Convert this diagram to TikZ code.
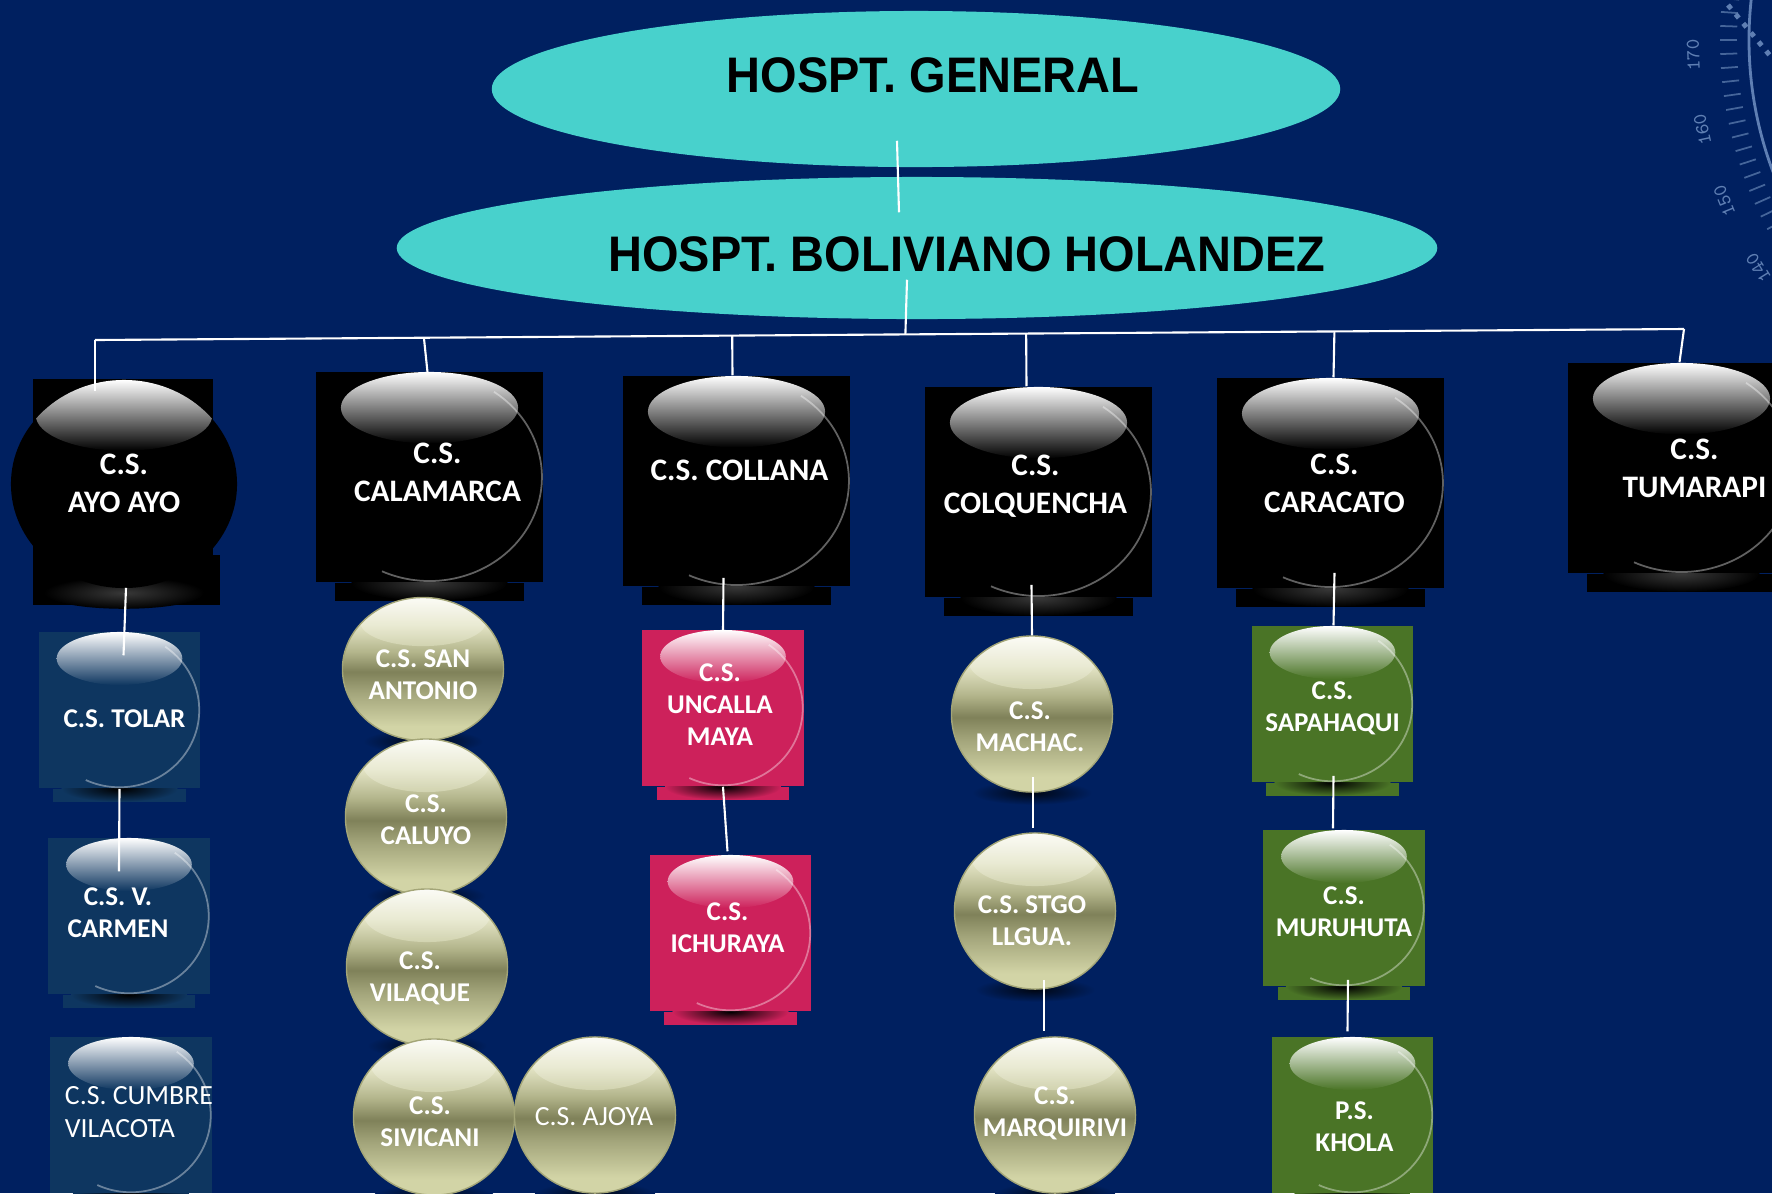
\documentclass[tikz,border=0pt]{standalone}
\usepackage{fontspec}
\newfontfamily\ballfont{Carlito}
\newfontfamily\headfont{Liberation Sans}[FakeStretch=0.94]
\usepackage{tikz}
\usetikzlibrary{calc, shapes.geometric, backgrounds}
\pgfdeclarelayer{bottom}
\pgfsetlayers{bottom,background,main}

\definecolor{navy}{HTML}{002060}
\definecolor{turq}{HTML}{48D1CC}
\definecolor{tealblue}{HTML}{0E3660}
\definecolor{rose}{HTML}{CD215B}
\definecolor{leaf}{HTML}{4A7426}
\definecolor{oltop}{HTML}{F8F8EC}
\definecolor{olupper}{HTML}{E2E3C4}
\definecolor{olmid}{HTML}{B3B58B}
\definecolor{oldark}{HTML}{7F8159}
\definecolor{ollow}{HTML}{A2A47A}
\definecolor{olbase}{HTML}{D2D4A6}
\definecolor{oledge}{HTML}{A3A577}
\definecolor{gaugeline}{HTML}{5F7FB3}
\definecolor{gaugetick}{HTML}{45659A}

\pgfdeclareverticalshading{olivebody}{100bp}{color(0bp)=(olbase); color(30bp)=(olbase);
  color(42bp)=(ollow); color(49bp)=(oldark); color(56bp)=(olmid); color(65bp)=(olupper);
  color(75bp)=(oltop); color(100bp)=(oltop)}

% inside a path picture: unit vectors = half width / half height of the ball
\tikzset{ballframe/.style={shift={(path picture bounding box.center)},
    x={($(path picture bounding box.east)-(path picture bounding box.center)$)},
    y={($(path picture bounding box.north)-(path picture bounding box.center)$)}}}
% glossy cap on top of a ball
\newcommand{\glint}[2][1]{%
  \begin{scope}[ballframe]
    \shade[top color=white, bottom color=#2, opacity=#1] (0,0.66) ellipse [x radius=0.78, y radius=0.34];
  \end{scope}}
% thin light edge on the right
\newcommand{\rimline}{%
  \begin{scope}[ballframe]
    \draw[white, draw opacity=0.38, line width=0.5pt] (55:0.99) arc [start angle=55, end angle=-115, radius=0.99];
  \end{scope}}

\begin{document}
\begin{tikzpicture}[
    x=0.01cm, y=-0.01cm,
    head/.style={ellipse, fill=turq, inner sep=0pt},
    headtext/.style={font=\headfont\bfseries\fontsize{14.2}{17}\selectfont, text=black},
    tile/.style={rectangle, fill=#1, inner sep=0pt, path picture={\glint{#1}\rimline}},
    orb/.style={ellipse, fill=#1, inner sep=0pt, path picture={\glint{#1}}},
    pearl/.style={ellipse, shade, shading=olivebody, draw=oledge, line width=0.4pt,
                  inner sep=0pt, path picture={\glint[0.55]{olupper}}},
    bigball/.style={minimum width=2.27cm, minimum height=2.10cm},
    smallball/.style={minimum width=1.61cm, minimum height=1.56cm},
    bigtext/.style={font=\ballfont\bfseries\fontsize{8.9}{10.8}\selectfont},
    smalltext/.style={font=\ballfont\bfseries\fontsize{7.7}{9.1}\selectfont},
    lighttext/.style={font=\ballfont\fontsize{7.9}{9.6}\selectfont},
    every label/.style={text=white, align=center, inner sep=0pt},
    say/.style n args={4}{label={[#1, shift={(#2,#3)}]center:#4}},
    link/.style={draw=white, line width=0.6pt},
    notch/.style={gaugetick, line width=0.5pt},
    gaugetext/.style={font=\ttfamily\fontsize{5.6}{6}\selectfont, text=gaugeline, inner sep=0pt},
]
    \useasboundingbox (0,0) rectangle (1772,1193);
    \begin{pgfonlayer}{bottom}
        \fill[navy] (0,0) rectangle (1772,1193);
        % protractor in the corner
        \coordinate (gauge) at (2123,40);
        \draw[gaugeline, line width=0.8pt] ($(gauge)+(150:374)$) arc [start angle=150, end angle=190, radius=374];
        \foreach \a in {146,148,...,190}
            \draw[notch] ($(gauge)+(\a:386)$) -- ($(gauge)+(\a:403)$);
        \foreach \v in {140,150,160,170}
            \node[gaugetext, rotate={262-\v}] (deg\v) at ($(gauge)+({\v+8}:430)$) {\v};
        \draw[gaugeline, dotted, line width=1.4pt] (1728,5) -- (1772,58);
    \end{pgfonlayer}

    % hospitals
    \node[head, minimum width=8.48cm, minimum height=1.56cm,
          say={headtext}{17}{-14}{HOSPT. GENERAL}] (general) at (916,89) {};
    \node[head, minimum width=10.4cm, minimum height=1.42cm,
          say={headtext}{50}{6}{HOSPT. BOLIVIANO HOLANDEZ}] (boliviano) at (917,248) {};

    % centros de salud
    \node[orb=black, minimum width=2.26cm, minimum height=2.08cm, say={bigtext}{0}{-1}{C.S.\\AYO AYO}] (ayo) at (124,484) {};
    \node[tile=black, bigball, say={bigtext}{8}{-5}{C.S.\\CALAMARCA}] (calamarca) at (429.5,477) {};
    \node[tile=black, bigball, say={bigtext}{3}{-11}{C.S. COLLANA}] (collana) at (736.5,481) {};
    \node[tile=black, bigball, say={bigtext}{-3}{-6}{C.S.\\COLQUENCHA}] (colquencha) at (1038.5,492) {};
    \node[tile=black, bigball, say={bigtext}{4}{0}{C.S.\\CARACATO}] (caracato) at (1330.5,483) {};
    \node[tile=black, bigball, say={bigtext}{13}{0}{C.S.\\TUMARAPI}] (tumarapi) at (1681.5,468) {};

    \node[tile=tealblue, smallball, say={smalltext}{5}{9}{C.S. TOLAR}] (tolar) at (119.5,710) {};
    \node[tile=tealblue, smallball, say={smalltext}{-11}{-3}{C.S. V.\\CARMEN}] (carmen) at (129,916) {};
    \node[tile=tealblue, smallball, say={lighttext, align=left}{8}{-3}{C.S. CUMBRE\\VILACOTA}] (cumbre) at (131,1115) {};

    \node[pearl, smallball, minimum height=1.43cm, say={smalltext}{0}{6}{C.S. SAN\\ANTONIO}] (sanantonio) at (423,669) {};
    \node[pearl, smallball, say={smalltext}{0}{3}{C.S.\\CALUYO}] (caluyo) at (426,817) {};
    \node[pearl, smallball, say={smalltext}{-7}{11}{C.S.\\VILAQUE}] (vilaque) at (427,967) {};
    \node[pearl, smallball, say={smalltext}{-4}{5}{C.S.\\SIVICANI}] (sivicani) at (434,1117) {};
    \node[pearl, smallball, say={lighttext}{-1}{2}{C.S. AJOYA}] (ajoya) at (595,1115) {};

    \node[tile=rose, smallball, say={smalltext}{-3}{-3}{C.S.\\UNCALLA\\MAYA}] (uncalla) at (723,708) {};
    \node[tile=rose, smallball, say={smalltext}{-3}{-5}{C.S.\\ICHURAYA}] (ichuraya) at (730.5,933) {};

    \node[pearl, smallball, say={smalltext}{-2}{13}{C.S.\\MACHAC.}] (machac) at (1032,714) {};
    \node[pearl, smallball, say={smalltext}{-3}{10}{C.S. STGO\\LLGUA.}] (stgo) at (1035,911) {};
    \node[pearl, smallball, say={smalltext}{0}{-2}{C.S.\\MARQUIRIVI}] (marquirivi) at (1055,1115) {};

    \node[tile=leaf, smallball, say={smalltext}{0}{4}{C.S.\\SAPAHAQUI}] (sapahaqui) at (1332.5,704) {};
    \node[tile=leaf, smallball, say={smalltext}{0}{4}{C.S.\\MURUHUTA}] (muruhuta) at (1344,908) {};
    \node[tile=leaf, smallball, say={smalltext}{2}{12}{P.S.\\KHOLA}] (khola) at (1352.5,1115) {};

    % tiles, strips and shadows
    \begin{scope}[on background layer]
        \fill[black] ($(ayo.center)+(-91,-105)$) rectangle ($(ayo.center)+(89,71)$);
        \fill[black] ($(ayo.center)+(-91,71)$) rectangle ($(ayo.center)+(96,121)$);
        \shade[inner color=white!22!black, outer color=black] ($(ayo.south)+(0,4)$) ellipse [x radius=0.8cm, y radius=0.16cm];
        \foreach \n in {calamarca, collana, colquencha, caracato, tumarapi} {
            \fill[black] ($(\n.south west)+(20,0)$) rectangle ($(\n.south east)+(-20,18)$);
            \shade[inner color=white!22!black, outer color=black] (\n.south) ellipse [x radius=0.78cm, y radius=0.18cm];
        }
        \foreach \n/\c in {tolar/tealblue, carmen/tealblue, cumbre/tealblue, uncalla/rose, ichuraya/rose,
                           sapahaqui/leaf, muruhuta/leaf, khola/leaf} {
            \fill[\c] ($(\n.south west)+(15,0)$) rectangle ($(\n.south east)+(-15,13)$);
            \shade[inner color=black, outer color=\c] (\n.south) ellipse [x radius=0.58cm, y radius=0.13cm];
        }
        \foreach \n in {sanantonio, caluyo, vilaque, sivicani, ajoya, machac, stgo, marquirivi}
            \shade[inner color=black!80!navy, outer color=navy] (\n.south) ellipse [x radius=0.6cm, y radius=0.12cm];
    \end{scope}

    % lines
    \coordinate (busL) at (95,340);
    \coordinate (busR) at (1684,329);
    \draw[link] (busL) -- (busR);
    \draw[link] ($(general.south)+(-19,-27)$) -- ($(boliviano.north)+(-18,36)$);
    \draw[link] ($(boliviano.south)+(-10,-40)$) -- ($(busL)!0.510!(busR)$);
    \draw[link] (busL) -- ($(ayo.north)+(-29,12)$);
    \draw[link] ($(busL)!0.207!(busR)$) -- ($(calamarca.north)+(-2,1)$);
    \draw[link] ($(busL)!0.401!(busR)$) -- ($(collana.north)+(-4,0)$);
    \draw[link] ($(busL)!0.586!(busR)$) -- ($(colquencha.north)+(-12,0)$);
    \draw[link] ($(busL)!0.780!(busR)$) -- ($(caracato.north)+(3,0)$);
    \draw[link] (busR) -- ($(tumarapi.north)+(-2,0)$);

    \draw[link] ($(ayo.south)+(2,-1)$) -- ($(tolar.north)+(4,24)$);
    \draw[link] (tolar.south) -- ($(carmen.north)+(-10,34)$);
    \draw[link] ($(collana.south)+(-13,-9)$) -- ($(uncalla.north)+(0,2)$);
    \draw[link] (uncalla.south) -- ($(ichuraya.north)+(-3,-3)$);
    \draw[link] ($(colquencha.south)+(-7,-13)$) -- (machac.north);
    \draw[link] ($(machac.south)+(1,-16)$) -- ($(stgo.north)+(-2,-4)$);
    \draw[link] ($(stgo.south)+(9,-10)$) -- ($(marquirivi.north)+(-11,-5)$);
    \draw[link] ($(caracato.south)+(4,-16)$) -- ($(sapahaqui.north)+(1,0)$);
    \draw[link] ($(sapahaqui.south)+(1,-7)$) -- ($(muruhuta.north)+(-11,-1)$);
    \draw[link] ($(muruhuta.south)+(4,-7)$) -- ($(khola.north)+(-5,-5)$);
\end{tikzpicture}
\end{document}
